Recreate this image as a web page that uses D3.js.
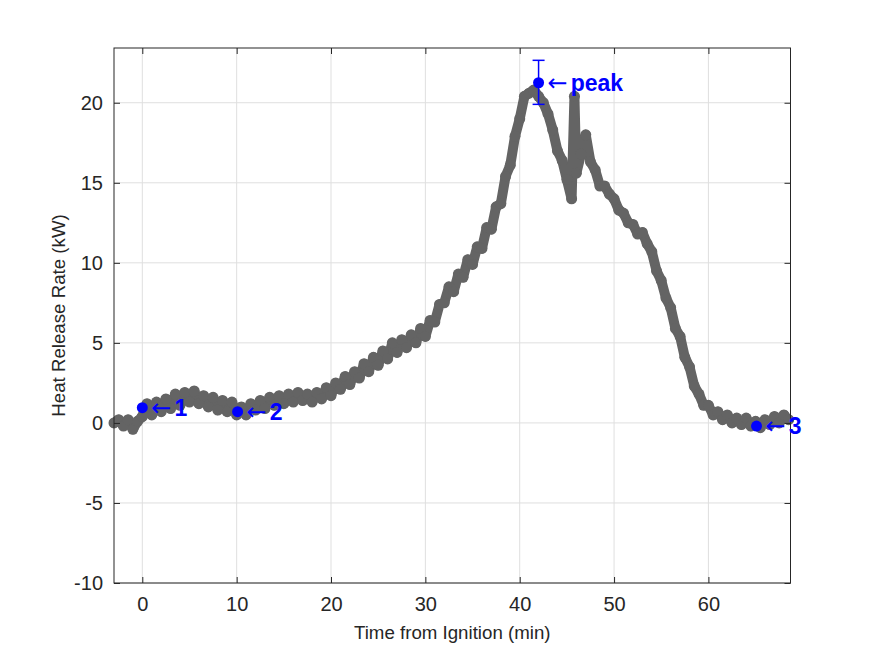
<!DOCTYPE html>
<html>
<head>
<meta charset="utf-8">
<script src="https://cdn.jsdelivr.net/npm/d3@7"></script>
<style>
  body { margin: 0; background: #fff; }
  text { font-family: "Liberation Sans", Arial, sans-serif; }
</style>
</head>
<body>
<div id="chart"></div>
<script>
// time from ignition (min) and heat release rate (kW)
var time = [-3.0, -2.5, -2.0, -1.5, -1.0, -0.5, 0.0, 0.5, 1.0, 1.5, 2.0, 2.5, 3.0, 3.5, 4.0, 4.5,
  5.0, 5.5, 6.0, 6.5, 7.0, 7.5, 8.0, 8.5, 9.0, 9.5, 10.0, 10.5, 11.0, 11.5, 12.0, 12.5,
  13.0, 13.5, 14.0, 14.5, 15.0, 15.5, 16.0, 16.5, 17.0, 17.5, 18.0, 18.5, 19.0, 19.5,
  20.0, 20.5, 21.0, 21.5, 22.0, 22.5, 23.0, 23.5, 24.0, 24.5, 25.0, 25.5, 26.0, 26.5,
  27.0, 27.5, 28.0, 28.5, 29.0, 29.5, 30.0, 30.5, 31.0, 31.5, 32.0, 32.5, 33.0, 33.5,
  34.0, 34.5, 35.0, 35.5, 36.0, 36.5, 37.0, 37.5, 38.0, 38.5, 39.0, 39.5, 40.0, 40.5,
  41.0, 41.5, 42.0, 42.5, 43.0, 43.5, 44.0, 44.5, 45.0, 45.5, 45.8, 46.0, 46.5, 47.0,
  47.5, 48.0, 48.5, 49.0, 49.5, 50.0, 50.5, 51.0, 51.5, 52.0, 52.5, 53.0, 53.5, 54.0,
  54.5, 55.0, 55.5, 56.0, 56.5, 57.0, 57.5, 58.0, 58.5, 59.0, 59.5, 60.0, 60.5, 61.0,
  61.5, 62.0, 62.5, 63.0, 63.5, 64.0, 64.5, 65.0, 65.5, 66.0, 66.5, 67.0, 67.5, 68.0, 68.5];

var hrr = [0.0, 0.2, -0.2, 0.2, -0.4, 0.1, 0.4, 1.2, 0.5, 1.3, 0.7, 1.5, 0.9, 1.8, 1.1, 1.9,
  1.3, 2.0, 1.2, 1.7, 1.0, 1.6, 0.8, 1.4, 0.7, 1.3, 0.5, 1.0, 0.5, 1.2, 0.8, 1.4,
  0.9, 1.6, 1.1, 1.7, 1.2, 1.8, 1.3, 1.9, 1.4, 1.8, 1.3, 1.9, 1.5, 2.2,
  1.7, 2.5, 2.1, 2.9, 2.4, 3.2, 2.8, 3.7, 3.2, 4.1, 3.6, 4.5, 4.0, 5.0,
  4.4, 5.2, 4.7, 5.5, 5.0, 5.9, 5.4, 6.4, 6.3, 7.4, 7.5, 8.5, 8.2, 9.3,
  9.1, 10.2, 9.9, 11.0, 10.9, 12.2, 12.1, 13.5, 13.7, 15.4, 16.1, 17.9, 19.0, 20.4,
  20.6, 20.8, 20.4, 20.0, 19.3, 18.3, 17.0, 16.4, 15.2, 14.0, 20.4, 15.6, 16.8, 18.0,
  16.3, 15.8, 14.8, 14.8, 14.3, 14.0, 13.3, 13.1, 12.5, 12.4, 11.8, 11.9, 11.2, 10.7,
  9.5, 8.9, 7.8, 7.2, 5.9, 5.4, 4.1, 3.5, 2.3, 1.8, 1.1, 1.1, 0.5, 0.7,
  0.2, 0.5, 0.0, 0.3, -0.1, 0.3, -0.2, 0.1, -0.3, 0.2, -0.1, 0.4, 0.0, 0.5, 0.2];

// annotated points
var markLabels = ["1", "2", "peak", "3"];
var markTime = [0.0, 10.1, 42.0, 65.1];
var markHrr = [0.95, 0.7, 21.25, -0.2];

// uncertainty on the peak
var peakLow = 19.9, peakHigh = 22.65;

var xTicks = [0, 10, 20, 30, 40, 50, 60];
var yTicks = [-10, -5, 0, 5, 10, 15, 20];

var margin = {top: 48, right: 84.5, bottom: 73, left: 114},
width = 875 - margin.left - margin.right,
height = 656 - margin.top - margin.bottom;

var svg = d3.select("#chart")
  .append("svg")
  .attr("width", 875)
  .attr("height", 656)
  .append("g")
  .attr("transform", "translate(" + margin.left + "," + margin.top + ")");

var x = d3.scaleLinear().domain([-3, 68.7]).range([0, width]);
var y = d3.scaleLinear().domain([-10, 23.42]).range([height, 0]);

// grid
svg.append("g")
  .selectAll("line")
  .data(xTicks)
  .enter()
  .append("line")
  .attr("x1", function(d) { return x(d); })
  .attr("x2", function(d) { return x(d); })
  .attr("y1", 0)
  .attr("y2", height)
  .attr("stroke", "#dfdfdf");

svg.append("g")
  .selectAll("line")
  .data(yTicks)
  .enter()
  .append("line")
  .attr("y1", function(d) { return y(d); })
  .attr("y2", function(d) { return y(d); })
  .attr("x1", 0)
  .attr("x2", width)
  .attr("stroke", "#dfdfdf");

// data: noisy trace drawn as a thick line + dot markers
var pts = time.map(function(t, i) { return {t: t, v: hrr[i]}; });

var line = d3.line()
  .x(function(d) { return x(d.t); })
  .y(function(d) { return y(d.v); });

svg.append("path")
  .datum(pts)
  .attr("d", line)
  .attr("fill", "none")
  .attr("stroke", "#646464")
  .attr("stroke-width", 10)
  .attr("stroke-linejoin", "round")
  .attr("stroke-linecap", "round");

svg.selectAll("circle.pt")
  .data(pts)
  .enter()
  .append("circle")
  .attr("class", "pt")
  .attr("cx", function(d) { return x(d.t); })
  .attr("cy", function(d) { return y(d.v); })
  .attr("r", 5.5)
  .attr("fill", "#646464");

// axes (box with inward ticks on all sides)
function plain(d) { return String(d); }

function styleAxis(g) {
  g.select(".domain").remove();
  g.selectAll(".tick line").attr("stroke", "#262626");
  g.selectAll(".tick text")
    .attr("fill", "#262626")
    .attr("font-family", "Liberation Sans, Arial, sans-serif")
    .style("font-size", "20px");
}

svg.append("g")
  .attr("transform", "translate(0," + height + ")")
  .call(d3.axisBottom(x).tickValues(xTicks).tickSizeInner(-6).tickPadding(14).tickFormat(plain))
  .call(styleAxis);

svg.append("g")
  .call(d3.axisTop(x).tickValues(xTicks).tickSizeInner(-6).tickFormat(""))
  .call(styleAxis);

svg.append("g")
  .call(d3.axisLeft(y).tickValues(yTicks).tickSizeInner(-6).tickPadding(11).tickFormat(plain))
  .call(styleAxis);

svg.append("g")
  .attr("transform", "translate(" + width + ",0)")
  .call(d3.axisRight(y).tickValues(yTicks).tickSizeInner(-6).tickFormat(""))
  .call(styleAxis);

svg.append("rect")
  .attr("width", width)
  .attr("height", height)
  .attr("fill", "none")
  .attr("stroke", "#262626")
  .attr("stroke-width", 1);

// error bar on the peak
var px = x(markTime[2]);
svg.append("line")
  .attr("x1", px).attr("x2", px)
  .attr("y1", y(peakLow)).attr("y2", y(peakHigh))
  .attr("stroke", "#0000ff").attr("stroke-width", 1.5);
[peakLow, peakHigh].forEach(function(v) {
  svg.append("line")
    .attr("x1", px - 6).attr("x2", px + 6)
    .attr("y1", y(v)).attr("y2", y(v))
    .attr("stroke", "#0000ff").attr("stroke-width", 1.5);
});

// markers and labels
svg.selectAll("circle.mark")
  .data(markTime)
  .enter()
  .append("circle")
  .attr("class", "mark")
  .attr("cx", function(d) { return x(d); })
  .attr("cy", function(d, i) { return y(markHrr[i]); })
  .attr("r", 5.5)
  .attr("fill", "#0000ff");

var lab = svg.selectAll("text.mark")
  .data(markTime)
  .enter()
  .append("text")
  .attr("class", "mark")
  .attr("x", function(d) { return x(d) + 9; })
  .attr("y", function(d, i) { return y(markHrr[i]); })
  .attr("dy", "0.36em")
  .attr("fill", "#0000ff")
  .style("font-size", "23px");

lab.append("tspan")
  .style("font-family", "DejaVu Sans")
  .style("font-size", "24px")
  .text("\u2190");

lab.append("tspan")
  .attr("dx", 3)
  .style("font-weight", "bold")
  .text(function(d, i) { return markLabels[i]; });

// axis labels
svg.append("text")
  .attr("x", width / 2)
  .attr("y", height + 56)
  .attr("text-anchor", "middle")
  .attr("fill", "#262626")
  .style("font-size", "18.7px")
  .text("Time from Ignition (min)");

svg.append("text")
  .attr("transform", "rotate(-90)")
  .attr("x", -height / 2)
  .attr("y", -49)
  .attr("text-anchor", "middle")
  .attr("fill", "#262626")
  .style("font-size", "18.7px")
  .text("Heat Release Rate (kW)");
</script>
</body>
</html>
